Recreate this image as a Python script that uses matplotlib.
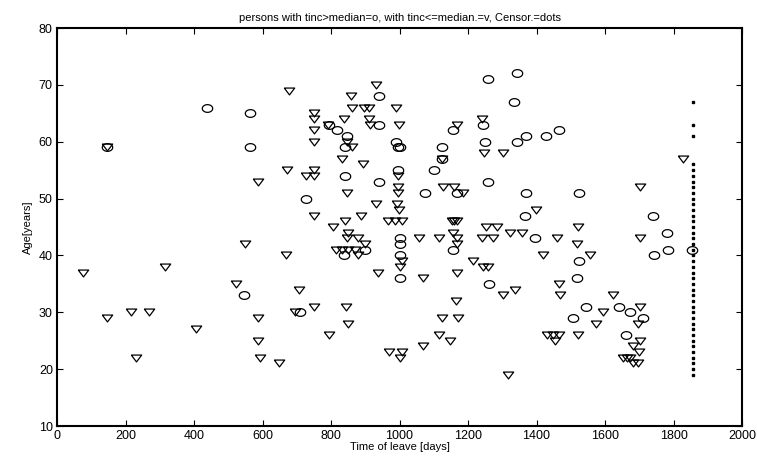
import numpy as np
import matplotlib
matplotlib.use("Agg")
import matplotlib.pyplot as plt

# persons with tinc > median (circles)
circ_x = [147, 437, 563, 563, 547, 709, 727, 795, 817, 846, 841, 841, 838,
          899, 941, 941, 941, 990, 995, 1002, 997, 1000, 1000, 1000, 1000,
          1074, 1101, 1125, 1125, 1155, 1155, 1167, 1245, 1250, 1259, 1259,
          1262, 1335, 1344, 1344, 1369, 1369, 1366, 1396, 1428, 1467, 1507,
          1517, 1524, 1524, 1545, 1642, 1661, 1673, 1710, 1743, 1741, 1780,
          1785, 1853]
circ_y = [59, 66, 65, 59, 33, 30, 50, 63, 62, 61, 59, 54, 40,
          41, 68, 63, 53, 60, 59, 59, 55, 43, 42, 40, 36,
          51, 55, 59, 57, 62, 41, 51, 63, 60, 71, 53,
          35, 67, 72, 60, 61, 51, 47, 43, 61, 62, 29,
          36, 51, 39, 31, 31, 26, 30, 29, 40, 47, 44,
          41, 41]

# persons with tinc <= median (triangles)
tri_x = [77, 147, 147, 216, 230, 269, 315, 405, 522, 550, 587, 587, 593, 588,
         649, 669, 671, 676, 695, 707, 727, 750, 750, 750, 750, 750, 750, 750,
         750, 790, 794, 807, 831, 839, 841, 848, 860, 848, 849, 843, 857, 862,
         895, 910, 912, 914, 892, 889, 930, 990, 999, 997, 997, 997, 992, 999,
         930, 967, 987, 1006, 850, 846, 880, 899, 815, 833, 850, 870, 878, 938,
         1006, 1001, 1070, 1058, 1116, 969, 1006, 1001, 1070, 1115, 1147, 1123,
         1172, 1165, 1167, 1155, 1167, 1167, 1215, 1245, 1259, 1152, 1160, 1168,
         1125, 1126, 1160, 1186, 1167, 1240, 1247, 1303, 1252, 1286, 1240, 1274,
         1323, 1357, 1399, 1303, 1337, 1318, 1461, 1418, 1517, 1522, 1556, 1467,
         1469, 1624, 1593, 1573, 1432, 1449, 1467, 1454, 1522, 1702, 1702, 1702,
         1697, 1702, 1683, 1700, 1653, 1663, 1673, 1681, 1697, 1829]
tri_y = [37, 29, 59, 30, 22, 30, 38, 27, 35, 42, 29, 25, 22, 53,
         21, 40, 55, 69, 30, 34, 54, 55, 54, 65, 64, 62, 60, 47,
         31, 63, 26, 45, 57, 64, 46, 60, 59, 51, 28, 31, 68, 66,
         66, 66, 64, 63, 56, 47, 70, 66, 63, 54, 52, 51, 49, 48,
         49, 46, 46, 46, 44, 43, 43, 42, 41, 41, 41, 41, 40, 37,
         39, 38, 36, 43, 43, 23, 23, 22, 24, 26, 25, 29,
         29, 32, 37, 44, 43, 42, 39, 38, 38, 46, 46, 46,
         57, 52, 52, 51, 63, 64, 58, 58, 45, 45, 43, 43,
         44, 44, 48, 33, 34, 19, 43, 40, 42, 45, 40, 35,
         33, 33, 30, 28, 26, 26, 26, 25, 26, 52, 43, 31,
         28, 25, 24, 23, 22, 22, 22, 21, 21, 57]

# censored persons (dots)
cens_x = [1857] * 41
cens_y = list(range(19, 57)) + [61, 63, 67]

x_ticks = [0, 200, 400, 600, 800, 1000, 1200, 1400, 1600, 1800, 2000]
y_ticks = [10, 20, 30, 40, 50, 60, 70, 80]

plt.rcParams['font.family'] = ['Liberation Sans', 'DejaVu Sans']

# slightly squashed markers as in the reference
t = np.linspace(0, 2 * np.pi, 40)
ellipse = list(zip(np.cos(t) * 0.5, np.sin(t) * 0.37))
tri = [(-0.5, 0.33), (0.5, 0.33), (0.0, -0.33), (-0.5, 0.33)]

fig = plt.figure(figsize=(7.57, 4.57), dpi=100)
ax = fig.add_axes([0.0753, 0.0678, 0.9049, 0.8709])

ax.plot(circ_x, circ_y, linestyle='none', marker=ellipse, markersize=7.5,
        markerfacecolor='none', markeredgecolor='black', markeredgewidth=0.9)
ax.plot(tri_x, tri_y, linestyle='none', marker=tri, markersize=7.5,
        markerfacecolor='none', markeredgecolor='black', markeredgewidth=0.9)
ax.plot(cens_x, cens_y, linestyle='none', marker='s', markersize=1.6,
        color='black')

ax.set_xlim(0, 2000)
ax.set_ylim(10, 80)
ax.set_xticks(x_ticks)
ax.set_yticks(y_ticks)
ax.tick_params(direction='in', length=4, width=0.8, top=True, right=True,
               labelsize=9, pad=3)
for s in ax.spines.values():
    s.set_linewidth(1.5)

ax.set_title('persons with tinc>median=o, with tinc<=median.=v, Censor.=dots',
             fontsize=8, pad=5)
ax.set_xlabel('Time of leave [days]', fontsize=8, labelpad=0)
ax.set_ylabel('Age[years]', fontsize=8, labelpad=4)

fig.savefig('out.png', dpi=100)
